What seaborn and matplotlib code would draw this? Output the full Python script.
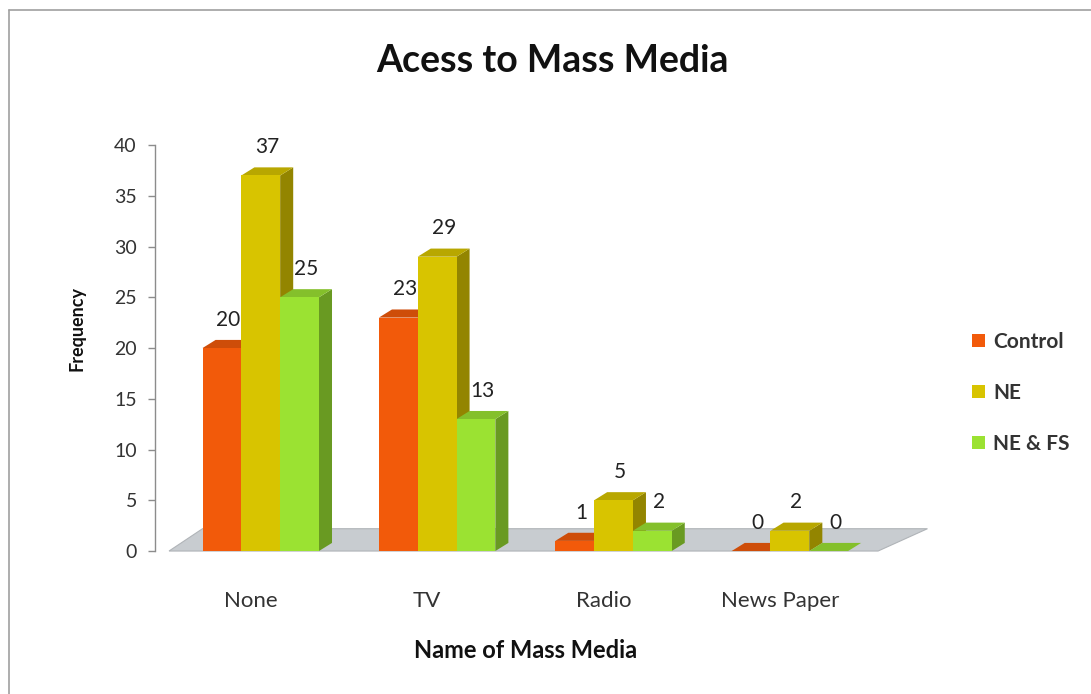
import numpy as np
import pandas as pd
import matplotlib
matplotlib.use("Agg")
import matplotlib.pyplot as plt
import matplotlib.colors as mcolors
from matplotlib.patches import Polygon, Patch
from matplotlib.lines import Line2D
from matplotlib.transforms import ScaledTranslation
import seaborn as sns

# ---- data ----
categories = ["None", "TV", "Radio", "News Paper"]
series = ["Control", "NE", "NE & FS"]
control = [20, 23, 1, 0]
ne = [37, 29, 5, 2]
ne_fs = [25, 13, 2, 0]
yticks = [0, 5, 10, 15, 20, 25, 30, 35, 40]

colors = {"Control": "#F25A0A", "NE": "#D8C400", "NE & FS": "#9BE232"}

df = pd.DataFrame({
    "media": categories * 3,
    "group": [series[0]] * 4 + [series[1]] * 4 + [series[2]] * 4,
    "freq": control + ne + ne_fs,
})

sns.set_theme(style="white")
plt.rcParams["font.family"] = ["Lato", "DejaVu Sans"]

fig = plt.figure(figsize=(10.91, 6.94), dpi=100)
ax = fig.add_axes([0.142, 0.206, 0.679, 0.585])

sns.barplot(data=df, x="media", y="freq", hue="group", order=categories,
            hue_order=series, palette=colors, width=0.66, gap=0,
            saturation=1, ax=ax, legend=False, errorbar=None, zorder=3,
            linewidth=0, edgecolor="none")

ax.set_xlim(-0.60, 3.6)
ax.set_ylim(0, 40)
ax.set_yticks(yticks)

# 3D-like depth
dx, dy = 0.074, 0.8

# floor
x0, x1 = -0.52, 3.50
floor = Polygon([(x0, 0), (x1, 0), (x1 + 0.28, 2.2), (x0 + 0.19, 2.2)],
                closed=True, facecolor="#C8CCD0", edgecolor="#B0B4B8",
                lw=0.8, zorder=1, clip_on=False)
ax.add_patch(floor)

# side and top faces of bars
bars = []
for cont, name in zip(ax.containers, series):
    for rect in cont:
        bars.append((rect, name))
bars.sort(key=lambda b: b[0].get_x())
for rank, (rect, name) in enumerate(bars):
    x = rect.get_x()
    w = rect.get_width()
    h = rect.get_height()
    rect.set_linewidth(0)
    rect.set_edgecolor("none")
    base = np.array(mcolors.to_rgb(colors[name]))
    side_c = base * 0.68
    top_c = base * 0.85
    z = 3 + rank * 0.01
    rect.set_zorder(z + 0.005)
    side = Polygon([(x + w, 0), (x + w + dx, dy), (x + w + dx, h + dy), (x + w, h)],
                   closed=True, facecolor=side_c, edgecolor="none", zorder=z,
                   clip_on=False)
    top = Polygon([(x, h), (x + dx, h + dy), (x + w + dx, h + dy), (x + w, h)],
                  closed=True, facecolor=top_c, edgecolor="none", zorder=z,
                  clip_on=False)
    ax.add_patch(side)
    ax.add_patch(top)
    ax.text(x + w / 2 + dx / 2, h + dy + 1.0, f"{int(h)}", ha="center",
            va="bottom", fontsize=15, color="#222222", zorder=10)

# axes styling
for s in ["top", "right", "bottom"]:
    ax.spines[s].set_visible(False)
ax.spines["left"].set_color("#8C8C8C")
ax.spines["left"].set_linewidth(1.0)
ax.tick_params(axis="y", which="both", left=True, length=5, width=1,
               color="#8C8C8C", labelsize=14, labelcolor="#333333", pad=8)
ax.tick_params(axis="x", bottom=False, labelsize=16, labelcolor="#333333", pad=23)
ax.set_facecolor("white")
offset = ScaledTranslation(-10 / 100, 0, fig.dpi_scale_trans)
for lab in ax.get_xticklabels():
    lab.set_transform(lab.get_transform() + offset)

ax.set_xlabel("Name of Mass Media", fontsize=17, fontweight="bold",
              color="#111111", labelpad=20)
ax.set_ylabel("Frequency", fontsize=13, fontweight="bold", color="#111111")
ax.yaxis.set_label_coords(-0.094, 0.547)

fig.suptitle("Acess to Mass Media", x=0.506, y=0.936, fontsize=27,
             fontweight="bold", color="#111111")

handles = [Patch(facecolor=colors[s], edgecolor="none") for s in series]
leg = fig.legend(handles, series, loc="center left",
                 bbox_to_anchor=(0.874, 0.434), frameon=False,
                 fontsize=15, labelspacing=1.5, handlelength=0.6,
                 handleheight=0.6, handletextpad=0.4)
for t in leg.get_texts():
    t.set_fontweight("bold")
    t.set_color("#333333")

# chart border (left and top)
fig.add_artist(Line2D([0.008, 0.008], [0.0, 0.986], transform=fig.transFigure,
                      color="#A0A0A0", lw=1.2))
fig.add_artist(Line2D([0.008, 1.0], [0.986, 0.986], transform=fig.transFigure,
                      color="#A0A0A0", lw=1.2))

fig.savefig("out.png", dpi=100, facecolor="white")
